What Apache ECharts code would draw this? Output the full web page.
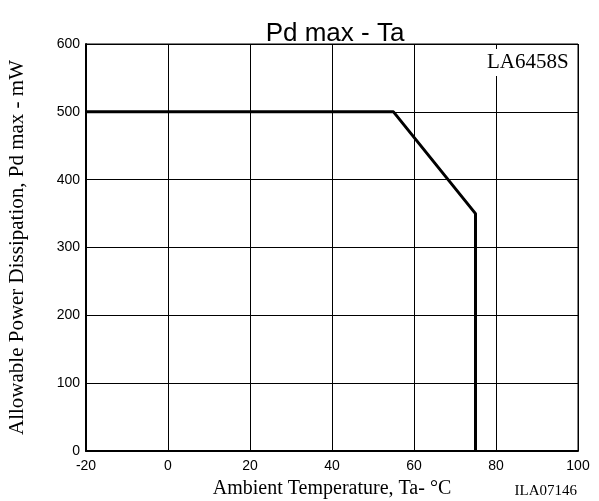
<!DOCTYPE html>
<html><head><meta charset="utf-8">
<script src="https://cdn.jsdelivr.net/npm/echarts@6/dist/echarts.min.js"></script>
<style>html,body{margin:0;padding:0;background:#fff}#c{width:599px;height:501px}</style>
</head><body><div id="c"></div>
<script>
var xTicks = [-20, 0, 20, 40, 60, 80, 100];
var yTicks = [0, 100, 200, 300, 400, 500, 600];
var curveTa = [-20, 55, 75, 75];
var curvePd = [500, 500, 350, 0];
var partName = 'LA6458S';
var figId = 'ILA07146';

var chart = echarts.init(document.getElementById('c'), null, {renderer: 'canvas'});
var serif = '"Liberation Serif", "Times New Roman", serif';
var sans = '"Liberation Sans", Arial, sans-serif';
chart.setOption({
  animation: false,
  backgroundColor: '#fff',
  title: {text: 'Pd max - Ta', left: 330, top: 16, textAlign: 'center',
    textStyle: {fontFamily: sans, fontSize: 26, fontWeight: 'normal', color: '#000'}},
  grid: {left: 86, right: 21, top: 44, bottom: 50, show: true, borderColor: '#000', borderWidth: 1,
    containLabel: false, outerBoundsMode: 'none'},
  xAxis: {type: 'value', min: xTicks[0], max: xTicks[xTicks.length - 1], interval: 20,
    name: 'Ambient Temperature, Ta- °C', nameLocation: 'middle', nameGap: 28,
    nameTextStyle: {fontFamily: serif, fontSize: 20, color: '#000'},
    axisLine: {show: true, onZero: false, lineStyle: {color: '#000', width: 2}},
    axisTick: {show: false},
    axisLabel: {fontFamily: sans, fontSize: 14, color: '#000', margin: 8},
    splitLine: {show: true, lineStyle: {color: '#000', width: 1}}},
  yAxis: {type: 'value', min: yTicks[0], max: yTicks[yTicks.length - 1], interval: 100,
    name: 'Allowable Power Dissipation, Pd max - mW', nameLocation: 'middle', nameGap: 58,
    nameTextStyle: {fontFamily: serif, fontSize: 21, color: '#000'},
    axisLine: {show: true, onZero: false, lineStyle: {color: '#000', width: 2}},
    axisTick: {show: false},
    axisLabel: {fontFamily: sans, fontSize: 14, color: '#000', margin: 6},
    splitLine: {show: true, lineStyle: {color: '#000', width: 1}}},
  series: [{type: 'line', data: curveTa.map(function (t, i) { return [t, curvePd[i]]; }),
    symbol: 'none', lineStyle: {color: '#000', width: 3}}],
  graphic: [
    {type: 'text', left: 484, top: 49, z: 100,
      style: {text: partName, font: '21px ' + serif, fill: '#000', backgroundColor: '#fff', padding: [3, 3, 3, 3]}},
    {type: 'text', right: 22, top: 484,
      style: {text: figId, font: '15px ' + serif, fill: '#000'}}
  ]
});
</script></body></html>
